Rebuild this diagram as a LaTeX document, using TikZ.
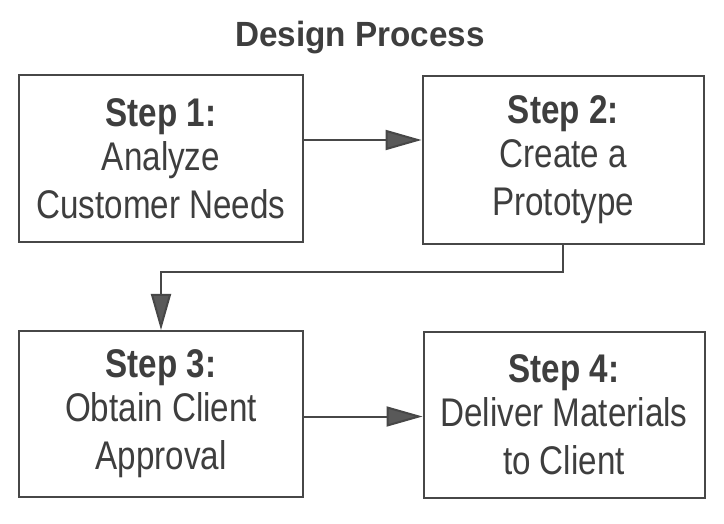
\documentclass[tikz,border=0pt]{standalone}
\usepackage{fontspec}
\setmainfont{Liberation Sans}[FakeStretch=0.83]
\newfontfamily\titlefont{Liberation Sans}[FakeStretch=0.95]
\usetikzlibrary{arrows.meta}
\definecolor{ink}{HTML}{3E3E3E}
\definecolor{edge}{HTML}{474747}
\tikzset{
  stepbox/.style={draw=edge, line width=2pt, align=center, inner sep=0pt,
    text=ink, font=\fontsize{40}{48}\selectfont},
  flow/.style={draw=edge, line width=2pt,
    -{Triangle[length=36pt,width=20pt,fill=edge!90]}},
}
\begin{document}
\begin{tikzpicture}[x=1pt,y=-1pt]
\useasboundingbox[fill=white] (0,0) rectangle (724,524);
\node[text=ink, font=\titlefont\fontsize{35}{40}\selectfont\bfseries, anchor=base] (title) at (360,47) {Design Process};
\node[stepbox, minimum width=284pt, minimum height=167pt] (b1) at (161,158.5)
  {{\bfseries Step 1:}\\[-4pt]Analyze\\Customer Needs};
\node[stepbox, minimum width=281.5pt, minimum height=168pt] (b2) at (563.3,160)
  {{\bfseries Step 2:}\\[-4pt]Create a\\Prototype};
\node[stepbox, minimum width=284pt, minimum height=166pt] (b3) at (161,414)
  {{\bfseries Step 3:}\\[-4pt]Obtain Client\\Approval};
\node[stepbox, minimum width=281pt, minimum height=166pt] (b4) at (564,415)
  {{\bfseries Step 4:}\\[-4pt]Deliver Materials\\to Client};
\draw[flow] ([yshift=18.5pt]b1.east) -- ([yshift=18.5pt]b1.east -| b2.west);
\draw[flow] ([yshift=-2.5pt]b3.east) -- ([yshift=-2.5pt]b3.east -| b4.west);
\draw[flow] (b2.south) -- ++(0pt,-27pt) -| (b3.north);
\end{tikzpicture}
\end{document}
